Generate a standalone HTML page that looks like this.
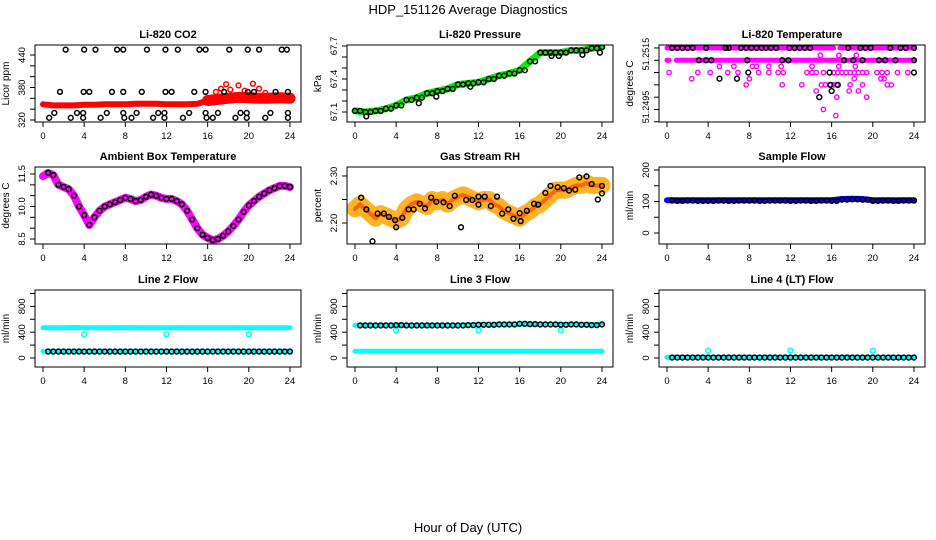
<!DOCTYPE html>
<html><head><meta charset="utf-8">
<style>
html,body{margin:0;padding:0;background:#fff;}
svg{display:block;font-family:"Liberation Sans",sans-serif;}
</style></head>
<body>
<svg id="fig" width="936" height="540" viewBox="0 0 936 540">
<text x="468" y="14" text-anchor="middle" font-size="13">HDP_151126  Average Diagnostics</text>
<text x="468" y="532" text-anchor="middle" font-size="13">Hour of Day (UTC)</text>
</svg>
<script>
// ---- shared data ----
const halfHours=[0,0.5,1,1.5,2,2.5,3,3.5,4,4.5,5,5.5,6,6.5,7,7.5,8,8.5,9,9.5,10,10.5,11,11.5,12,12.5,13,13.5,14,14.5,15,15.5,16,16.5,17,17.5,18,18.5,19,19.5,20,20.5,21,21.5,22,22.5,23,23.5,24];
const hours=[0,1,2,3,4,5,6,7,8,9,10,11,12,13,14,15,16,17,18,19,20,21,22,23,24];
const xTicks=[0,4,8,12,16,20,24];
// CO2
const co2Band=[349,347,347,347,348,348,349,349,349,350,350,350,349,349,349,350,356,358,360,362,361,360,360,361,360];
const co2OutT=[2.2,4.0,5.1,7.2,7.8,10.1,11.9,13.1,15.2,15.8,18.1,19.9,21.0,23.2,23.7, 1.65,3.95,4.5,6.7,7.8,9.6,11.9,12.5,14.7,15.8,17.6,19.9,20.5,22.6,23.8, 1.1,3.3,3.9,6.2,7.8,9.1,11.2,11.8,14.2,15.8,17.0,19.2,19.8,22.1,23.8, 0.6,2.7,3.9,5.6,7.9,8.6,10.7,11.8,13.6,15.9,16.5,18.7,19.8,21.6,23.8];
const co2OutV=[450,450,450,450,450,450,450,450,450,450,450,450,450,450,450, 372,372,372,372,372,372,372,372,372,372,372,372,372,372,372, 333,333,333,333,333,333,333,333,333,333,333,333,333,333,333, 324,324,324,324,324,324,324,324,324,324,324,324,324,324,324];
const co2SpikeT=[16.8,17.3,17.8,18.2,19.0,19.6,20.4,21.0,21.6];
const co2SpikeV=[372,378,386,376,384,374,387,378,370];
// Pressure
const presBand=[67.11,67.10,67.11,67.13,67.16,67.21,67.23,67.27,67.29,67.31,67.35,67.36,67.37,67.40,67.43,67.45,67.48,67.56,67.64,67.64,67.64,67.66,67.66,67.68,67.69];
const presOutT=[1.1,6.2,7.9,11.2,19.1,19.8,22.1,23.8];
const presOutV=[67.06,67.18,67.24,67.33,67.61,67.61,67.62,67.64];
// Li-820 temperature
const tRowStart=[0,16.8,0,0.9];
const tRowEnd=[16.2,24,0.2,24];
const tRowLevel=[51.2515,51.2515,51.2510,51.2510];
const tMagT=[0.2,3.0,4.2,5.9,6.9,8.9,9.9,10.8,11.3,13.6,14.1,14.5,15.2,16.2,16.6,17.0,17.4,17.8,18.2,18.6,19.0,19.4,20.4,20.9,21.4,22.4,23.4, 2.4,8.0,18.2,20.8,21.1, 5.1,6.5,8.3,8.7,9.9,11.1,14.1,16.7,18.3, 7.7,11.2,13.1,15.0,15.4,15.8,16.2,16.5,17.8,19.0,21.4,21.8, 14.5,17.7,18.6, 16.5,19.4, 14.9,16.7,18.4, 15.2,16.4];
const tMagV=[51.2505,51.2505,51.2505,51.2505,51.2505,51.2505,51.2505,51.2505,51.2505,51.2505,51.2505,51.2505,51.2505,51.2505,51.2505,51.2505,51.2505,51.2505,51.2505,51.2505,51.2505,51.2505,51.2505,51.2505,51.2505,51.2505,51.2505, 51.25025,51.25025,51.25025,51.25025,51.25025, 51.25075,51.25075,51.25075,51.25075,51.25075,51.25075,51.25075,51.25075,51.25075, 51.25,51.25,51.25,51.25,51.25,51.25,51.25,51.25,51.25,51.25,51.25,51.25, 51.24975,51.24975,51.24975, 51.2495,51.2495, 51.2512,51.2512,51.2512, 51.249,51.24875];
const tBlkT=[0.5,1.0,1.5,2.0,2.5,3.8,5.7,6.0,7.2,7.7,8.2,8.7,9.2,9.6,10.1,10.6,11.9,12.4,12.9,13.4,13.9,17.6,18.8,19.3,19.8,21.7,22.7,23.2,24.0, 3.1,3.8,4.3,7.8,11.2,11.8,17.2,18.1,19.0,20.6,21.2,22.2,24.0, 7.9,15.8,24.0, 5.1,6.8, 15.9,16.6, 16.0, 14.8];
const tBlkV=[51.2515,51.2515,51.2515,51.2515,51.2515,51.2515,51.2515,51.2515,51.2515,51.2515,51.2515,51.2515,51.2515,51.2515,51.2515,51.2515,51.2515,51.2515,51.2515,51.2515,51.2515,51.2515,51.2515,51.2515,51.2515,51.2515,51.2515,51.2515,51.2515, 51.251,51.251,51.251,51.251,51.251,51.251,51.251,51.251,51.251,51.251,51.251,51.251,51.251, 51.2505,51.2505,51.2505, 51.25025,51.25025, 51.25,51.25, 51.24975, 51.2495];
// Ambient box temperature
const ambBand=[11.4,11.55,11.45,11.0,10.9,10.8,10.5,10.0,9.6,9.15,9.5,9.8,10.0,10.1,10.2,10.3,10.4,10.35,10.25,10.3,10.45,10.55,10.5,10.4,10.35,10.35,10.25,10.1,9.8,9.4,9.0,8.7,8.55,8.45,8.5,8.65,8.85,9.1,9.4,9.75,10.05,10.25,10.45,10.6,10.75,10.85,10.95,10.95,10.9];
// Gas stream RH
const rhBand=[2.23,2.24,2.23,2.22,2.21,2.22,2.215,2.21,2.205,2.21,2.23,2.24,2.245,2.24,2.235,2.25,2.245,2.25,2.24,2.25,2.255,2.26,2.255,2.25,2.245,2.25,2.25,2.24,2.235,2.225,2.22,2.215,2.21,2.22,2.225,2.235,2.24,2.25,2.26,2.27,2.27,2.27,2.275,2.28,2.28,2.285,2.28,2.28,2.28];
const rhBlkT=[0.6,1.1,1.7,2.2,2.8,3.3,3.9,4.0,4.6,5.2,5.7,6.3,6.8,7.4,7.9,8.6,9.2,9.7,10.3,10.8,11.4,12.0,12.0,12.6,13.2,13.8,14.3,14.9,15.4,16.0,16.1,16.7,17.4,17.8,18.5,19.0,19.7,20.3,20.8,21.4,21.8,22.5,23.0,23.6,24.0,24.0];
const rhBlkV=[2.254,2.229,2.161,2.22,2.22,2.213,2.206,2.191,2.211,2.229,2.229,2.241,2.231,2.254,2.245,2.244,2.236,2.258,2.191,2.249,2.249,2.256,2.239,2.256,2.236,2.256,2.22,2.229,2.209,2.221,2.204,2.226,2.241,2.239,2.264,2.279,2.276,2.274,2.269,2.271,2.297,2.299,2.283,2.25,2.279,2.263];
// Sample flow
const sfBand=[104,104,104,104,104,104,104,104,104,104,104,104,104,104,104,104,104,108,109,108,104,104,104,104,104];
const sfBlk=[103,102,103,102,102,103,102,103,103,102,103,103,102,103,102,103,102,106,107,106,102,103,102,103,103];
// Line flows
const l2Hi=[470,470,470,472,470,470,470,470,471,470,470,470,470,470,470,470,470,470,470,470,470,470,470,470,470];
const l2Lo=[104,104,104,104,104,104,104,104,104,104,104,104,104,104,104,104,104,104,104,104,104,104,104,104,104];
const l2Blk=[100,100,100,100,100,100,100,100,100,100,100,100,100,100,100,100,100,100,100,100,100,100,100,100,100];
const l3Hi=[505,505,505,505,506,505,505,505,505,506,506,510,515,515,520,520,525,525,525,520,520,520,520,520,520];
const l3Lo=[104,104,104,104,104,104,104,104,104,104,104,104,104,104,104,104,104,104,104,104,104,104,104,104,104];
const l3Blk=[505,505,505,505,510,505,505,505,505,505,505,510,515,515,520,520,530,525,520,520,515,520,515,510,520];
const l4Band=[10,10,10,10,10,10,10,10,10,10,10,10,10,10,10,10,10,10,10,10,10,10,10,10,10];
const l4Blk=[8,8,8,8,8,8,8,8,8,8,8,8,8,8,8,8,8,8,8,8,8,8,8,8,8];
const outT=[4,12,20];
const l2Out=[368,368,368];
const l3Out=[430,430,430];
const l4Out=[114,114,114];

// ---- drawing ----
const svg=document.getElementById('fig');
const NS='http://www.w3.org/2000/svg';
function mk(tag,attrs,parent){const e=document.createElementNS(NS,tag);for(const k in attrs)e.setAttribute(k,attrs[k]);(parent||svg).appendChild(e);return e;}
const boxTops=[45,167,290];
function makePanel(col,row,title,ylab,ymin,ymax,yTicks,yLabels,name,labFont){
  const L=35+312*col, T=boxTops[row], W=266, H=77;
  const g=mk('g',{});
  
  
  const xs=h=>L+8+h*10.29;
  const ys=v=>T+H-(v-ymin)/(ymax-ymin)*H;
  const t=mk('text',{x:L+W/2,y:T-7,'text-anchor':'middle','font-size':11,'font-weight':'bold'},g);
  t.textContent=title;
  
  
  const yl=mk('text',{x:0,y:0,'text-anchor':'middle','font-size':10,transform:`translate(${L-26},${T+H/2}) rotate(-90)`},g);
  yl.textContent=ylab;
  
  
  const xa=mk('g',{},g);
  
  
  mk('line',{x1:xs(0),x2:xs(24),y1:T+H,y2:T+H,stroke:'#000'},xa);
  xTicks.forEach(v=>{
    mk('line',{x1:xs(v),x2:xs(v),y1:T+H,y2:T+H+5,stroke:'#000'},xa);
    const tx=mk('text',{x:xs(v),y:T+H+17,'text-anchor':'middle','font-size':9.5},xa);
    tx.textContent=v;
  });
  const ya=mk('g',{},g);
  
  
  mk('line',{x1:L,x2:L,y1:ys(yTicks[0]),y2:ys(yTicks[yTicks.length-1]),stroke:'#000'},ya);
  yTicks.forEach(v=>mk('line',{x1:L-5,x2:L,y1:ys(v),y2:ys(v),stroke:'#000'},ya));
  yLabels.forEach(p=>{
    const tx=mk('text',{x:0,y:0,'text-anchor':'middle','font-size':labFont||9.5,transform:`translate(${L-10},${ys(p[0])}) rotate(-90)`},ya);
    tx.textContent=p[1];
  });
  const plot=mk('g',{},g);
  
  
  const cp='cp'+col+row;
  const clip=mk('clipPath',{id:cp},g);mk('rect',{x:L,y:T,width:W,height:H},clip);
  plot.setAttribute('clip-path',`url(#${cp})`);
  mk('rect',{x:L,y:T,width:W,height:H,fill:'none',stroke:'#000'},g);
  return {xs,ys,plot};
}
function band(p,xsArr,vals,color,w,name,op){
  const pts=xsArr.map((h,i)=>p.xs(h).toFixed(1)+','+p.ys(vals[i]).toFixed(1)).join(' ');
  const e=mk('polyline',{points:pts,fill:'none',stroke:color,'stroke-width':w,'stroke-linejoin':'round','stroke-linecap':'round','stroke-opacity':op||1},p.plot);
  
  
}
function dots(p,xsArr,vals,color,name,r,sw){
  const g=mk('g',{},p.plot);
  
  
  xsArr.forEach((h,i)=>mk('circle',{cx:p.xs(h),cy:p.ys(vals[i]),r:r||2.4,fill:'none',stroke:color,'stroke-width':sw||1.5},g));
}

let p=makePanel(0,0,'Li-820 CO2','Licor ppm',316.3,458.5,[320,340,360,380,400,420,440],[[320,'320'],[380,'380'],[440,'440']],'co2-panel');
band(p,hours.slice(0,17),co2Band.slice(0,17),'#ff0000',6,'co2-band');
band(p,hours.slice(16),co2Band.slice(16),'#ff0000',11,'co2-band-late');
dots(p,co2SpikeT,co2SpikeV,'#ff0000','co2-red-spikes');
dots(p,co2OutT,co2OutV,'#000','co2-hourly-points');

p=makePanel(1,0,'Li-820 Pressure','kPa',67.009,67.709,[67.1,67.2,67.3,67.4,67.5,67.6,67.7],[[67.1,'67.1'],[67.4,'67.4'],[67.7,'67.7']],'pressure-panel');
band(p,hours,presBand,'#00ee00',7,'pressure-band');
dots(p,hours,presBand,'#000','pressure-points');
dots(p,halfHours.filter((h,i)=>i%2==1),presBand.slice(0,24),'#000','pressure-points-b');
dots(p,presOutT,presOutV,'#000','pressure-outliers');

p=makePanel(2,0,'Li-820 Temperature','degrees C',51.24849,51.25162,[51.2515,51.251,51.2505,51.25,51.2495,51.249,51.2485],[[51.25125,'51.2515'],[51.2491,'51.2495']],'li820-temp-panel',9);
tRowStart.forEach((s,i)=>{band(p,[s,tRowEnd[i]],[tRowLevel[i],tRowLevel[i]],'#ff00ff',5,'temp-dense-row');});
dots(p,tMagT,tMagV,'#ff00ff','temp-magenta-points',2.2,1.4);
dots(p,tBlkT,tBlkV,'#000','temp-hourly-points');

p=makePanel(0,1,'Ambient Box Temperature','degrees C',8.269,11.823,[8.5,9,9.5,10,10.5,11,11.5],[[8.5,'8.5'],[10,'10.0'],[11.5,'11.5']],'ambient-panel');
band(p,halfHours,ambBand,'#ff00ff',8,'ambient-band');
dots(p,halfHours.slice(1),ambBand.slice(1),'#000','ambient-points');

p=makePanel(1,1,'Gas Stream RH','percent',2.1553,2.3191,[2.2,2.25,2.3],[[2.2,'2.20'],[2.3,'2.30']],'rh-panel');
band(p,halfHours,rhBand,'#ffa500',17,'rh-band',0.85);
band(p,halfHours,rhBand,'#ff4400',4,'rh-band-core',0.7);
dots(p,rhBlkT,rhBlkV,'#000','rh-points');

p=makePanel(2,1,'Sample Flow','ml/min',-34.9,209.5,[0,50,100,150,200],[[0,'0'],[100,'100'],[200,'200']],'sample-flow-panel');
band(p,hours,sfBand,'#0000ff',6,'sample-flow-band');
dots(p,hours.slice(1),sfBlk.slice(1),'#000','sample-flow-points');
dots(p,halfHours.filter((h,i)=>i%2==1),sfBlk.slice(0,24),'#000','sample-flow-points-b');

const flowTicks=[0,200,400,600,800,1000], flowLabels=[[0,'0'],[400,'400'],[800,'800']];
p=makePanel(0,2,'Line 2 Flow','ml/min',-139.5,1054,flowTicks,flowLabels,'line2-flow-panel');
band(p,hours,l2Hi,'#00ffff',5,'line2-high-band');
band(p,hours,l2Lo,'#00ffff',5,'line2-low-band');
dots(p,outT,l2Out,'#00ffff','line2-outliers');
dots(p,hours.slice(1),l2Blk.slice(1),'#000','line2-points');
dots(p,halfHours.filter((h,i)=>i%2==1),l2Blk.slice(0,24),'#000','line2-points-b');

p=makePanel(1,2,'Line 3 Flow','ml/min',-139.5,1054,flowTicks,flowLabels,'line3-flow-panel');
band(p,hours,l3Hi,'#00ffff',5,'line3-high-band');
band(p,hours,l3Lo,'#00ffff',5,'line3-low-band');
dots(p,outT,l3Out,'#00ffff','line3-outliers');
dots(p,hours.slice(1),l3Blk.slice(1),'#000','line3-points');
dots(p,halfHours.filter((h,i)=>i%2==1),l3Blk.slice(0,24),'#000','line3-points-b');

p=makePanel(2,2,'Line 4 (LT) Flow','ml/min',-139.5,1054,flowTicks,flowLabels,'line4-flow-panel');
band(p,hours,l4Band,'#00ffff',5,'line4-band');
dots(p,outT,l4Out,'#00ffff','line4-outliers');
dots(p,hours.slice(1),l4Blk.slice(1),'#000','line4-points');
dots(p,halfHours.filter((h,i)=>i%2==1),l4Blk.slice(0,24),'#000','line4-points-b');
</script>
</body></html>
